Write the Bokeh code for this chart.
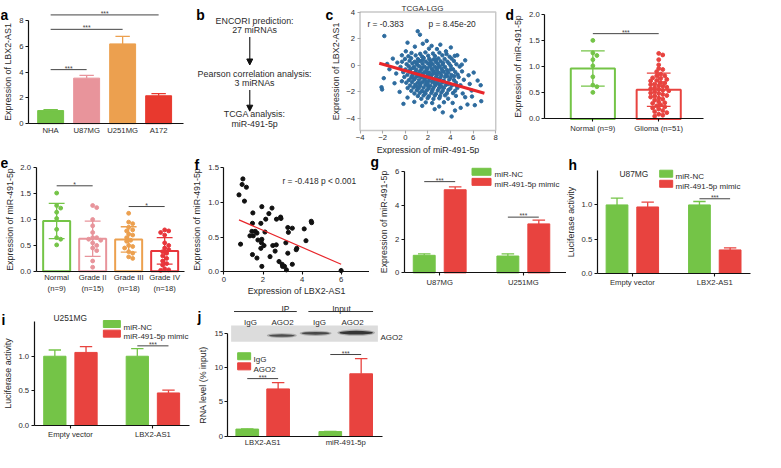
from bokeh.plotting import figure
from bokeh.layouts import row, column
from bokeh.models import (Range1d, FixedTicker, Label, Arrow, NormalHead,
                          ColumnDataSource, NumeralTickFormatter)
from bokeh.embed import file_html
from bokeh.resources import INLINE
from bokeh.core.properties import value

# ---------------- data ----------------
# a
a_cells = ["NHA", "U87MG", "U251MG", "A172"]
a_mean = [1.02, 3.54, 6.20, 2.17]
a_err = [0.07, 0.22, 0.58, 0.17]
a_sig_from = [0, 0, 0]
a_sig_to = [1, 2, 3]
a_sig_y = [4.2, 7.33, 8.45]
a_yticks = [0, 2, 4, 6, 8]

# b
b_lines = ["ENCORI prediction:", "27 miRNAs", "Pearson correlation analysis:", "3 miRNAs",
           "TCGA analysis:", "miR-491-5p"]

# c
c_pts = [
    (-1.85, 2.2), (1.1, 2.56), (1.3, 2.3), (0.2, 1.7), (1.9, 1.83), (2.33, 1.46), (4.03, 1.34),
    (1.55, 1.62), (0.85, 1.4), (3.1, 1.55), (2.8, 1.22), (-0.7, 0.2), (-0.3, 0.75), (-1.1, 0.5),
    (0.05, 1.05), (5.3, 0.37), (4.6, 0.75), (5.0, 0.05), (-1.9, -0.97), (-2.1, -1.65), (-2.05, -1.82),
    (-0.95, -1.35), (-0.16, -2.9), (0.2, -2.43), (-0.5, -2.0), (6.67, -1.5), (6.72, -2.7), (6.15, -3.0),
    (4.1, -3.85), (3.32, -3.54), (5.3, -2.4), (5.87, -1.9), (6.4, -1.15), (5.6, -0.75), (5.9, -2.35),
    (2.6, -3.3), (1.5, -3.05), (0.8, -2.75), (4.9, -3.2), (5.5, -2.95), (6.05, -0.55), (-1.4, -0.3),
    (-0.8, -0.62), (-1.6, 0.1), (-0.3, -1.2), (3.6, 1.05), (2.1, 1.25), (4.4, -3.4), (3.0, -3.1),
    (5.7, -1.4),
    (0.55, 0.93), (1.32, 0.86), (1.78, 0.97), (2.45, 0.88), (3.02, 0.95), (3.65, 0.84),
    (0.28, 0.68), (0.92, 0.74), (1.48, 0.66), (2.03, 0.72), (2.62, 0.69), (3.28, 0.75), (3.92, 0.64), (4.38, 0.71),
    (-0.02, 0.48), (0.52, 0.53), (1.12, 0.46), (1.63, 0.55), (2.12, 0.49), (2.51, 0.44), (2.93, 0.52), (3.48, 0.47), (4.1, 0.5),
    (-0.28, 0.27), (0.38, 0.33), (0.83, 0.26), (1.31, 0.31), (1.82, 0.28), (2.24, 0.35), (2.71, 0.24), (3.12, 0.3), (3.73, 0.27), (4.3, 0.33),
    (0.12, 0.08), (0.63, 0.13), (1.02, 0.06), (1.53, 0.11), (2.01, 0.14), (2.42, 0.07), (2.88, 0.1), (3.31, 0.05), (3.88, 0.12), (4.52, 0.08),
    (-0.42, -0.12), (0.31, -0.08), (0.78, -0.14), (1.21, -0.07), (1.72, -0.11), (2.18, -0.05), (2.61, -0.13), (3.04, -0.09), (3.52, -0.12), (4.02, -0.06), (4.81, -0.1),
    (0.02, -0.31), (0.48, -0.27), (0.97, -0.33), (1.43, -0.29), (1.88, -0.34), (2.33, -0.26), (2.79, -0.32), (3.22, -0.28), (3.68, -0.35), (4.22, -0.3),
    (-0.18, -0.52), (0.41, -0.48), (0.88, -0.53), (1.29, -0.46), (1.71, -0.51), (2.12, -0.55), (2.52, -0.47), (2.91, -0.52), (3.39, -0.49), (3.81, -0.54), (4.42, -0.5), (5.02, -0.46),
    (0.19, -0.72), (0.68, -0.67), (1.13, -0.73), (1.58, -0.69), (2.02, -0.74), (2.41, -0.66), (2.82, -0.71), (3.19, -0.75), (3.62, -0.68), (4.08, -0.73), (4.63, -0.7),
    (-0.08, -0.88), (0.52, -0.93), (0.99, -0.87), (1.42, -0.92), (1.91, -0.86), (2.29, -0.94), (2.71, -0.89), (3.12, -0.91), (3.52, -0.86), (4.01, -0.93), (4.72, -0.89),
    (0.31, -1.12), (0.79, -1.07), (1.22, -1.13), (1.69, -1.08), (2.11, -1.14), (2.58, -1.06), (3.02, -1.11), (3.41, -1.15), (3.89, -1.08), (4.31, -1.12), (5.18, -1.09),
    (0.09, -1.31), (0.61, -1.27), (1.08, -1.34), (1.51, -1.28), (1.98, -1.33), (2.39, -1.26), (2.82, -1.32), (3.28, -1.29), (3.71, -1.35), (4.48, -1.3),
    (0.42, -1.52), (0.89, -1.48), (1.32, -1.54), (1.79, -1.47), (2.22, -1.53), (2.68, -1.49), (3.09, -1.55), (3.58, -1.48), (4.12, -1.52), (4.88, -1.5),
    (0.21, -1.71), (0.72, -1.67), (1.19, -1.73), (1.62, -1.68), (2.08, -1.74), (2.52, -1.66), (2.98, -1.72), (3.42, -1.69), (3.98, -1.75), (4.61, -1.7),
    (0.53, -1.92), (1.02, -1.87), (1.48, -1.93), (1.91, -1.88), (2.38, -1.94), (2.88, -1.89), (3.31, -1.91), (3.82, -1.86), (4.41, -1.92),
    (0.81, -2.12), (1.28, -2.07), (1.79, -2.13), (2.31, -2.08), (2.72, -2.14), (3.19, -2.06), (3.68, -2.11), (4.22, -2.09), (5.08, -2.12),
    (1.11, -2.31), (1.62, -2.27), (2.09, -2.33), (2.61, -2.28), (3.08, -2.32), (3.52, -2.26), (4.48, -2.3),
    (1.42, -2.52), (1.98, -2.47), (2.49, -2.53), (3.01, -2.48), (3.79, -2.51),
    (1.81, -2.79), (2.38, -2.84), (3.42, -2.78), (4.19, -2.83),
    (1.03, 0.21), (1.52, 0.38), (2.27, 0.19), (2.73, 0.41), (3.34, 0.18), (0.68, -0.21), (1.47, -0.19),
    (1.96, -0.23), (2.41, -0.38), (2.86, -0.18), (3.31, -0.42), (1.07, -0.61), (1.52, -0.63), (1.93, -0.58),
    (2.28, -0.81), (2.67, -0.62), (3.11, -0.57), (0.82, -1.01), (1.18, -0.79), (1.73, -0.98), (2.12, -0.96),
    (2.52, -1.21), (2.93, -1.02), (3.33, -1.19), (1.31, -1.41), (1.83, -1.22), (2.62, -1.39), (3.02, -1.43),
    (1.02, -1.62), (2.01, -1.58), (2.43, -1.81), (3.22, -1.61), (3.71, -0.82), (3.79, -1.42), (0.38, -0.41),
    (0.61, -0.79), (4.32, -0.82), (4.02, -0.31), (4.52, -1.52), (1.71, -2.04),
]
c_x = [q[0] for q in c_pts]
c_y = [q[1] for q in c_pts]
c_fit_x = [-2.3, 7.0]
c_fit_y = [0.15, -2.1]

# d
d_groups = ["Normal (n=9)", "Glioma (n=51)"]
d_mean = [0.97, 0.56]
d_sd = [0.34, 0.32]
d_normal = [1.51, 1.27, 1.22, 1.14, 1.02, 0.81, 0.65, 0.51, 0.62]
d_glioma = [1.26, 1.23, 1.14, 1.04, 0.97, 0.95, 0.91, 0.86, 0.83, 0.83,
            0.79, 0.78, 0.76, 0.74, 0.73, 0.70, 0.69, 0.67, 0.66, 0.64,
            0.63, 0.61, 0.60, 0.58, 0.57, 0.55, 0.54, 0.52, 0.50, 0.49,
            0.47, 0.45, 0.44, 0.42, 0.40, 0.38, 0.36, 0.33, 0.31, 0.30,
            0.27, 0.25, 0.23, 0.21, 0.19, 0.16, 0.14, 0.12, 0.09, 0.07, 0.05]
d_sig_y = 1.64

# e
e_groups = ["Normal\n(n=9)", "Grade II\n(n=15)", "Grade III\n(n=18)", "Grade IV\n(n=18)"]
e_mean = [0.97, 0.63, 0.615, 0.395]
e_sd = [0.34, 0.34, 0.245, 0.255]
e_points = [
    [1.51, 1.27, 1.22, 1.14, 1.02, 0.81, 0.65, 0.51, 0.62],
    [1.27, 1.23, 1.00, 0.88, 0.75, 0.65, 0.65, 0.62, 0.60, 0.55, 0.50, 0.45, 0.40, 0.20, 0.08],
    [1.12, 0.95, 0.92, 0.85, 0.80, 0.78, 0.72, 0.70, 0.65, 0.60, 0.58, 0.50, 0.48, 0.45, 0.38, 0.35, 0.28, 0.25],
    [0.80, 0.78, 0.75, 0.70, 0.55, 0.50, 0.45, 0.42, 0.38, 0.35, 0.30, 0.25, 0.20, 0.15, 0.12, 0.05, 0.03, 0.02],
]
e_sig_from = [0, 2]
e_sig_to = [1, 3]
e_sig_y = [1.65, 1.25]

# f
f_x = [0.97, 0.93, 1.15, 0.77, 1.05, 1.48, 1.94, 2.46, 2.30, 1.46, 1.89, 2.14, 2.69, 2.90, 2.92,
       3.27, 3.50, 3.30, 4.11, 4.47, 4.49, 4.20, 3.73, 3.70, 0.85, 1.43, 1.60, 1.69, 1.50, 1.33,
       1.74, 1.94, 1.92, 2.10, 2.05, 2.50, 2.68, 1.89, 1.46, 1.69, 2.36, 2.62, 3.17, 3.27, 2.82,
       2.98, 3.10, 3.00, 3.20, 1.94, 3.50, 6.00]
f_y = [1.34, 1.26, 1.22, 1.11, 1.02, 0.85, 0.94, 0.92, 0.84, 0.70, 0.70, 0.76, 0.76, 0.79, 0.77,
       0.64, 0.63, 0.57, 0.62, 0.73, 0.71, 0.45, 0.34, 0.32, 0.40, 0.585, 0.585, 0.56, 0.52, 0.52,
       0.46, 0.47, 0.42, 0.575, 0.38, 0.38, 0.39, 0.34, 0.25, 0.20, 0.22, 0.30, 0.42, 0.27, 0.15,
       0.11, 0.08, 0.08, 0.03, 0.08, 0.11, 0.02]
f_fit_x = [0.77, 6.0]
f_fit_y = [0.75, 0.11]

# g
g_groups = ["U87MG", "U251MG"]
g_nc = [1.04, 1.0]
g_nc_err = [0.09, 0.13]
g_mimic = [4.92, 2.90]
g_mimic_err = [0.17, 0.22]
g_sig_y = [5.4, 3.3]

# h
h_groups = ["Empty vector", "LBX2-AS1"]
h_nc = [1.0, 1.0]
h_nc_err = [0.10, 0.05]
h_mimic = [0.97, 0.34]
h_mimic_err = [0.07, 0.03]
h_sig_y = 1.09

# i
i_groups = ["Empty vector", "LBX2-AS1"]
i_nc = [1.0, 1.0]
i_nc_err = [0.09, 0.11]
i_mimic = [1.055, 0.47]
i_mimic_err = [0.085, 0.04]
i_sig_y = 1.15

# j
j_groups = ["LBX2-AS1", "miR-491-5p"]
j_igg = [1.06, 0.70]
j_igg_err = [0.04, 0.03]
j_ago2 = [6.9, 9.1]
j_ago2_err = [0.9, 2.2]
j_sig_y = [8.4, 11.9]
j_lanes = ["IgG", "AGO2", "IgG", "AGO2"]

# legend texts
mir_legend = ["miR-NC", "miR-491-5p mimic"]
rip_legend = ["IgG", "AGO2"]

# ---------------- style ----------------
S = 0.962
FONT = "Liberation Sans"
TXT = "#2b2b2b"
GREEN = "#74c447"
PINK = "#e8949b"
ORANGE = "#eca04f"
RED = "#e8433f"
RED2 = "#e8392e"
BLUE = "#2d6b9e"
a_colors = [GREEN, PINK, ORANGE, RED2]
e_colors = [GREEN, PINK, ORANGE, "#e8353b"]


def P(v):
    return int(round(v * S))


def fs(v):
    return f"{v * S:.1f}px"


def new_panel(box, xmap, ymap, axes=True):
    """box in reference page px; xmap=(page x of data 0, px per unit);
    ymap=(page y of data 0, px per unit upward). Frame covers whole canvas."""
    x0, y0, x1, y1 = box
    xo, xs = xmap
    yo, ys = ymap
    p = figure(width=P(x1) - P(x0), height=P(y1) - P(y0),
               x_range=Range1d((x0 - xo) / xs, (x1 - xo) / xs),
               y_range=Range1d((yo - y1) / ys, (yo - y0) / ys),
               output_backend="svg", toolbar_location=None, min_border=0,
               x_axis_location="below" if axes else None,
               y_axis_location="left" if axes else None)
    p.outline_line_color = None
    p.xgrid.visible = False
    p.ygrid.visible = False
    p.border_fill_color = "white"
    p.background_fill_color = "white"

    def lab(X, Y, text, size=8.5, bold=False, align="left", baseline="alphabetic", color=TXT):
        p.add_layout(Label(x=P(X) - P(x0), y=P(y1) - P(Y), x_units="screen", y_units="screen",
                           text=text, text_font=FONT, text_font_size=fs(size),
                           text_font_style="bold" if bold else "normal",
                           text_align=align, text_baseline=baseline, text_color=color))

    def conv(X, Y):
        return ((X - xo) / xs, (yo - Y) / ys)
    return p, lab, conv


def style_axes(p, ylabel, yat, xbounds, ybounds, xat=0, xlabel=None, yticks=None, yfmt=None,
               xticks=None, xlabels=None, xtick_out=0, color="#111111"):
    xa, ya = p.xaxis[0], p.yaxis[0]
    ya.fixed_location = yat
    xa.fixed_location = xat
    ya.bounds = ybounds
    xa.bounds = xbounds
    for ax in (xa, ya):
        ax.axis_line_color = color
        ax.axis_line_width = 1.2
        ax.major_tick_line_color = color
        ax.major_tick_line_width = 1.1
        ax.major_tick_in = 0
        ax.major_tick_out = 3
        ax.minor_tick_line_color = None
        ax.major_label_text_font = FONT
        ax.major_label_text_font_size = fs(8)
        ax.major_label_text_color = TXT
        ax.axis_label_text_font = FONT
        ax.axis_label_text_font_size = fs(9.3)
        ax.axis_label_text_font_style = "normal"
        ax.axis_label_text_color = TXT
        ax.major_label_standoff = 2
        ax.axis_label_standoff = 3
    ya.axis_label = ylabel
    if xlabel:
        xa.axis_label = xlabel
        xa.axis_label_standoff = 1
    if yticks is not None:
        ya.ticker = FixedTicker(ticks=yticks)
    if yfmt:
        ya.formatter = NumeralTickFormatter(format=yfmt)
    if xticks is not None:
        xa.ticker = FixedTicker(ticks=xticks)
    if xlabels is not None:
        xa.major_label_overrides = {i: t for i, t in enumerate(xlabels)}
        xa.major_tick_out = xtick_out


def sig(p, x0s, x1s, ys, txt="*", size=7):
    p.segment(x0=x0s, y0=ys, x1=x1s, y1=ys, line_color="#444444", line_width=1)
    p.text(x=[(a + b) / 2 for a, b in zip(x0s, x1s)], y=ys, text=[txt] * len(ys),
           text_font=value(FONT), text_font_size=fs(size), text_align="center",
           text_baseline="bottom", text_color="#444444", y_offset=2)


def swarm(vals, upx, xpx, d):
    placed = []
    res = [0.0] * len(vals)
    cands = [0.0]
    for k in range(1, 40):
        cands += [k * d * 0.5, -k * d * 0.5]
    for i in sorted(range(len(vals)), key=lambda k: -vals[k]):
        yy = vals[i] * upx
        for c in cands:
            if all((c - a) ** 2 + (yy - b) ** 2 >= d * d * 0.81 for a, b in placed):
                break
        placed.append((c, yy))
        res[i] = c / xpx
    return res


def grouped(p, nc, nc_err, tr, tr_err, c1, c2, off, w, capw):
    x = [0, 1]
    p.vbar(x=[i - off for i in x], top=nc, width=w, bottom=0, fill_color=c1, line_color=c1)
    p.vbar(x=[i + off for i in x], top=tr, width=w, bottom=0, fill_color=c2, line_color=c2)
    for m, e, c, sgn in ((nc, nc_err, c1, -off), (tr, tr_err, c2, off)):
        cx = [i + sgn for i in x]
        hi = [a + b for a, b in zip(m, e)]
        p.segment(x0=cx, y0=m, x1=cx, y1=hi, line_color=c, line_width=1.3)
        p.segment(x0=[v - capw / 2 for v in cx], y0=hi, x1=[v + capw / 2 for v in cx], y1=hi,
                  line_color=c, line_width=1.3)


def legend(p, lab, conv, labels, colors, gx, centers, gw, tx, size=8.3):
    for t, c, cy in zip(labels, colors, centers):
        xd, yd = conv(gx + gw / 2, cy)
        p.rect(x=[xd], y=[yd], width=P(gw), height=P(7), width_units="screen",
               height_units="screen", fill_color=c, line_color=c)
        lab(tx, cy + 3, t, size)


LET = dict(size=14.5, bold=True, color="#000000")

# ---------------- panel a ----------------
pa, la, _ = new_panel((0, 0, 196, 160), (52, 37.33), (128, 13.375))
style_axes(pa, "Expression of LBX2-AS1", (29 - 52) / 37.33, (-0.616, 3.697), (0, 8),
           yticks=a_yticks, xticks=[0, 1, 2, 3], xlabels=a_cells)
ax_ = list(range(len(a_cells)))
a_hi = [m + e for m, e in zip(a_mean, a_err)]
srca = ColumnDataSource(dict(x=ax_, top=a_mean, hi=a_hi, c=a_colors,
                             cx0=[v - 0.2 for v in ax_], cx1=[v + 0.2 for v in ax_]))
pa.vbar(x="x", top="top", width=0.72, bottom=0, fill_color="c", line_color="c", source=srca)
pa.segment(x0="x", y0="top", x1="x", y1="hi", line_color="c", line_width=1.3, source=srca)
pa.segment(x0="cx0", y0="hi", x1="cx1", y1="hi", line_color="c", line_width=1.3, source=srca)
sig(pa, a_sig_from, a_sig_to, a_sig_y, "***")
la(0, 15, "a", **LET)

# ---------------- panel b ----------------
pb = figure(width=P(335) - P(196), height=P(160), x_range=Range1d(196, 335), y_range=Range1d(160, 0),
            output_backend="svg", toolbar_location=None, min_border=0,
            x_axis_location=None, y_axis_location=None)
pb.outline_line_color = None
pb.xgrid.visible = False
pb.ygrid.visible = False
pb.text(x=[264] * 6, y=[21, 31, 76, 86, 118, 128], text=b_lines, text_font=value(FONT),
        text_font_size=fs(9.3), text_align="center", text_baseline="middle", text_color=TXT)
for ys_, ye_ in ((38, 67), (93, 115)):
    pb.add_layout(Arrow(end=NormalHead(size=P(6), fill_color="#111111", line_color="#111111"),
                        x_start=259, y_start=ys_, x_end=259, y_end=ye_, line_width=1.1,
                        line_color="#111111"))
pb.text(x=[203], y=[15], text=["b"], text_font=value(FONT), text_font_size=fs(14.5),
        text_font_style="bold", text_baseline="alphabetic", text_color="#000000")

# ---------------- panel c ----------------
pc, lc, _ = new_panel((335, 0, 521, 160), (421, 11.75), (67.3, 13.82))
style_axes(pc, "Expression of LBX2-AS1", -4, (-4, 8), (-4.9, 4), xat=-4.9,
           xlabel="Expression of miR-491-5p",
           yticks=[-4, -2, 0, 2, 4], xticks=[-4, -2, 0, 2, 4, 6, 8], color="#aaaaaa")
pc.xaxis.axis_line_color = None
pc.yaxis.axis_line_color = None
pc.quad(left=[-4], right=[8], bottom=[-4.9], top=[4], fill_color=None,
        line_color="#c8c8c8", line_width=1.5)
pc.scatter(c_x, c_y, size=3.6 * S, fill_color=BLUE, line_color=BLUE)
pc.line(c_fit_x, c_fit_y, line_color="#e8262b", line_width=3)
lc(439, 8, "TCGA-LGG", 8.3, align="center")
lc(382, 24, "r = -0.383", 8.7)
lc(445, 24, "p = 8.45e-20", 8.7)
lc(338, 15, "c", **LET)

# ---------------- panel d ----------------
pdd, ld, _ = new_panel((521, 0, 781, 160), (616, 68.5), (123, 54))
style_axes(pdd, "Expression of miR-491-5p", -0.73, (-0.73, 1.68), (0, 2),
           yticks=[0, 0.5, 1, 1.5, 2], yfmt="0.0", xticks=[0, 1], xlabels=d_groups, xtick_out=3)
dcol = [GREEN, RED]
pdd.vbar(x=[0, 1], top=d_mean, width=0.67, bottom=0, fill_color="white", line_color=dcol, line_width=2)
lo = [m - s for m, s in zip(d_mean, d_sd)]
hi = [m + s for m, s in zip(d_mean, d_sd)]
pdd.segment(x0=[0, 1], y0=lo, x1=[0, 1], y1=hi, line_color=dcol, line_width=1.3)
for yy in (lo, hi):
    pdd.segment(x0=[-0.18, 0.82], y0=yy, x1=[0.18, 1.18], y1=yy, line_color=dcol, line_width=1.3)
for gi, (pts, c) in enumerate(((d_normal, GREEN), (d_glioma, RED))):
    offs = swarm(pts, 54 * S, 68.5 * S, 4.2 * S)
    pdd.scatter([gi + o for o in offs], pts, size=4 * S, fill_color=c, line_color=c)
sig(pdd, [0], [1], [d_sig_y], "***")
ld(525, 15, "d", **LET)

# ---------------- panel e ----------------
pe, le, _ = new_panel((0, 160, 200, 311), (58.5, 37.5), (281.7, 54))
style_axes(pe, "Expression of miR-491-5p", -0.573, (-0.573, 3.56), (0, 2),
           yticks=[0, 0.5, 1, 1.5, 2], yfmt="0.0", xticks=[0, 1, 2, 3], xlabels=e_groups)
ex = [0, 1, 2, 3]
pe.vbar(x=ex, top=e_mean, width=0.75, bottom=0, fill_color="white", line_color=e_colors, line_width=2)
lo = [m - s for m, s in zip(e_mean, e_sd)]
hi = [m + s for m, s in zip(e_mean, e_sd)]
pe.segment(x0=ex, y0=lo, x1=ex, y1=hi, line_color=e_colors, line_width=1.3)
for yy in (lo, hi):
    pe.segment(x0=[v - 0.22 for v in ex], y0=yy, x1=[v + 0.22 for v in ex], y1=yy,
               line_color=e_colors, line_width=1.3)
for gi, pts in enumerate(e_points):
    offs = swarm(pts, 54 * S, 37.5 * S, 4.2 * S)
    pe.scatter([gi + o for o in offs], pts, size=4 * S, fill_color=e_colors[gi], line_color=e_colors[gi])
sig(pe, e_sig_from, e_sig_to, e_sig_y, "*")
le(0, 168, "e", **LET)

# ---------------- panel f ----------------
pf, lf, _ = new_panel((200, 160, 384, 311), (232.7, 20.3), (282.3, 72.3))
style_axes(pf, "Expression of miR-491-5p", 0, (0, 7.5), (0, 1.5), xlabel="Expression of LBX2-AS1",
           yticks=[0, 0.5, 1.0, 1.5], yfmt="0.0", xticks=[0, 2, 4, 6])
pf.scatter(f_x, f_y, size=4.3 * S, fill_color="#111111", line_color="#111111")
pf.line(f_fit_x, f_fit_y, line_color="#e8262b", line_width=1.2)
lf(292.7, 187.5, "r = -0.418   p < 0.001", 8.7)
lf(202, 170, "f", **LET)

# ---------------- panel g ----------------
pg, lg, cg = new_panel((384, 160, 588, 311), (456.7, 86.6), (283.3, 17.6))
style_axes(pg, "Expression of miR-491-5p", (420 - 456.7) / 86.6, ((420 - 456.7) / 86.6, 1.516), (0, 6),
           yticks=[0, 2, 4, 6], xticks=[0, 1], xlabels=g_groups, xtick_out=3)
grouped(pg, g_nc, g_nc_err, g_mimic, g_mimic_err, GREEN, RED, 0.185, 0.262, 0.15)
sig(pg, [-0.185, 0.815], [0.185, 1.185], g_sig_y, "***")
legend(pg, lg, cg, mir_legend, [GREEN, RED], 490, [178, 188.5], 20, 513)
lg(385, 167, "g", **LET)

# ---------------- panel h ----------------
ph, lh, ch = new_panel((588, 160, 781, 311), (656.7, 86), (283.5, 71))
style_axes(ph, "Luciferase activity", (620 - 656.7) / 86, ((620 - 656.7) / 86, 1.434), (0, 1.5),
           yticks=[0, 0.5, 1.0], yfmt="0.0", xticks=[0, 1], xlabels=h_groups, xtick_out=3)
grouped(ph, h_nc, h_nc_err, h_mimic, h_mimic_err, GREEN, RED, 0.186, 0.264, 0.15)
sig(ph, [0.814], [1.186], [h_sig_y], "***")
legend(ph, lh, ch, mir_legend, [GREEN, RED], 685, [180, 190.5], 14, 702)
lh(643, 179.5, "U87MG", 8.7)
lh(590, 170, "h", **LET)

# ---------------- panel i ----------------
pi, li, ci = new_panel((0, 311, 200, 468), (72.85, 85.9), (442, 72))
style_axes(pi, "Luciferase activity", (35 - 72.85) / 85.9, ((35 - 72.85) / 85.9, 1.445), (0, 1.5),
           yticks=[0, 0.5, 1.0], yfmt="0.0", xticks=[0, 1], xlabels=i_groups, xtick_out=3)
grouped(pi, i_nc, i_nc_err, i_mimic, i_mimic_err, GREEN, RED, 0.189, 0.27, 0.15)
sig(pi, [0.811], [1.189], [i_sig_y], "***")
legend(pi, li, ci, mir_legend, [GREEN, RED], 107, [336.5, 346.5], 18, 128)
li(55, 329.5, "U251MG", 8.7)
li(1, 332, "i", **LET)

# ---------------- panel j ----------------
pj, lj, cj = new_panel((200, 311, 432, 468), (272.7, 86), (453.3, 7.15))
style_axes(pj, "RNA level (% input)", (236.7 - 272.7) / 86, ((236.7 - 272.7) / 86, 1.445), (0, 15),
           yticks=[0, 5, 10, 15], xticks=[0, 1], xlabels=j_groups, xtick_out=0)


def jx(X):
    return cj(X, 0)[0]


def jy(Y):
    return cj(0, Y)[1]


# western blot strip (decoration)
pj.quad(left=[jx(240)], right=[jx(392)], top=[jy(338)], bottom=[jy(355)],
        fill_color="#dcdcdc", line_color=None)
pj.ellipse(x=[jx(292.5), jx(327.5), jx(369.5)], y=[jy(348.5), jy(346.2), jy(345.5)],
           width=[31 / 86, 33 / 86, 39 / 86], height=[5 / 7.15, 5.5 / 7.15, 6.5 / 7.15],
           fill_color="#7a7a7a", fill_alpha=0.5, line_color=None)
pj.ellipse(x=[jx(292.5), jx(327.5), jx(369.5)], y=[jy(348.5), jy(346.2), jy(345.5)],
           width=[27 / 86, 29 / 86, 35 / 86], height=[2.6 / 7.15, 3.0 / 7.15, 3.8 / 7.15],
           fill_color="#2e2e2e", fill_alpha=[0.75, 0.8, 0.95], line_color=None)
pj.segment(x0=[jx(243), jx(320)], y0=[jy(323.5)] * 2, x1=[jx(308), jx(387)], y1=[jy(323.5)] * 2,
           line_color="#333333", line_width=1)
grouped(pj, j_igg, j_igg_err, j_ago2, j_ago2_err, GREEN, RED, 0.186, 0.273, 0.15)
sig(pj, [-0.186, 0.814], [0.186, 1.186], j_sig_y, "***")
legend(pj, lj, cj, rip_legend, [GREEN, RED], 247, [370, 380.5], 13, 263)
lj(296, 320.5, "IP", 8.7, align="center")
lj(354, 320.5, "Input", 8.7, align="center")
for X, t in zip([260, 293, 332, 366], j_lanes):
    lj(X, 334.5, t, 8.3, align="center")
lj(395, 350, "AGO2", 8.3)
lj(205, 328, "j", **LET)

# empty remainder of the last row
pz = figure(width=P(781) - P(432), height=P(468) - P(311), output_backend="svg",
            toolbar_location=None, min_border=0, x_axis_location=None, y_axis_location=None)
pz.outline_line_color = None
pz.xgrid.visible = False
pz.ygrid.visible = False

layout = column(row(pa, pb, pc, pdd), row(pe, pf, pg, ph), row(pi, pj, pz))

open("out.html", "w").write(file_html(layout, INLINE))
